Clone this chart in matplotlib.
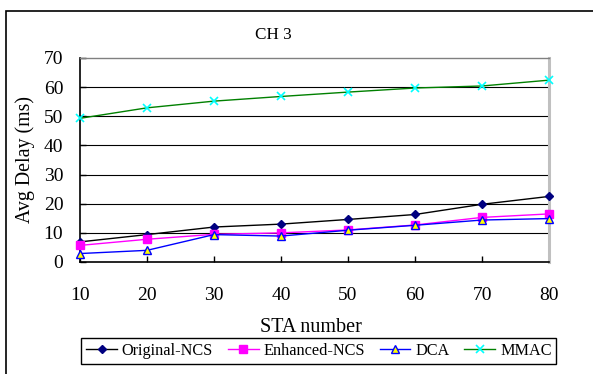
import matplotlib
matplotlib.use("Agg")
import matplotlib.pyplot as plt
from matplotlib.patches import Rectangle
from matplotlib.lines import Line2D

plt.rcParams['font.family'] = ['Liberation Serif', 'DejaVu Serif']

sta = [10, 20, 30, 40, 50, 60, 70, 80]
original_ncs = [6.9, 9.4, 12.0, 13.0, 14.6, 16.3, 19.8, 22.5]
enhanced_ncs = [5.7, 7.8, 9.5, 10.0, 11.0, 12.7, 15.3, 16.5]
dca = [2.9, 4.0, 9.4, 8.9, 10.9, 12.6, 14.4, 14.9]
mmac = [49.3, 52.9, 55.2, 56.8, 58.3, 59.7, 60.4, 62.4]

series_names = ["Original-NCS", "Enhanced-NCS", "DCA", "MMAC"]
yticks = [0, 10, 20, 30, 40, 50, 60, 70]

W, H = 593, 374
fig = plt.figure(figsize=(W / 100, H / 100), dpi=100)

# outer chart border (cropped at right/bottom)
fig.add_artist(Rectangle((6 / W, -0.1), 1.2, (H - 11) / H + 0.1,
                         transform=fig.transFigure, fill=False,
                         edgecolor='black', linewidth=1.2))

ax = fig.add_axes([80 / W, (H - 262) / H, (549 - 80) / W, (262 - 58) / H])
ax.set_xlim(10, 80)
ax.set_ylim(0, 70)

for y in yticks[1:-1]:
    ax.axhline(y, color='black', linewidth=0.8, zorder=1)

ax.plot(sta, original_ncs, color='#000000', marker='D', markersize=4.5,
        markerfacecolor='#000080', markeredgecolor='#000080', linewidth=1.0,
        label=series_names[0], zorder=3, clip_on=False)
ax.plot(sta, enhanced_ncs, color='#ff00ff', marker='s', markersize=5.5,
        markerfacecolor='#ff00ff', markeredgecolor='#ff00ff', linewidth=1.0,
        label=series_names[1], zorder=3, clip_on=False)
ax.plot(sta, dca, color='#0000ff', marker='^', markersize=6,
        markerfacecolor='#ffff00', markeredgecolor='#0000ff', markeredgewidth=1.0,
        linewidth=1.0, label=series_names[2], zorder=3, clip_on=False)
ax.plot(sta, mmac, color='#008000', marker='x', markersize=6,
        markeredgecolor='#00ffff', markeredgewidth=1.2, linewidth=1.0,
        label=series_names[3], zorder=3, clip_on=False)

ax.set_xticks(sta)
ax.set_yticks(yticks)
ax.tick_params(axis='both', direction='in', length=4, width=1, labelsize=14)
ax.tick_params(axis='x', pad=18)
ax.tick_params(axis='y', pad=12)

ax.spines['left'].set_color('black')
ax.spines['bottom'].set_color('black')
ax.spines['left'].set_linewidth(1.2)
ax.spines['bottom'].set_linewidth(1.2)
ax.spines['top'].set_color('#808080')
ax.spines['top'].set_linewidth(1.0)
ax.spines['right'].set_color('#c0c0c0')
ax.spines['right'].set_linewidth(2.2)

fig.text(273 / W, 1 - 35 / H, "CH 3", ha='center', va='center', fontsize=12.3)
fig.text(311 / W, 1 - 328 / H, "STA number", ha='center', va='center', fontsize=14.5)
fig.text(25 / W, 1 - 160 / H, "Avg Delay (ms)", ha='center', va='center',
         rotation=90, fontsize=14.3)

handles, labels = ax.get_legend_handles_labels()
leg = fig.legend(handles, labels, ncol=4, loc='center',
                 bbox_to_anchor=(318.8 / W, 1 - 351 / H),
                 fontsize=11.7, frameon=True, fancybox=False, framealpha=1,
                 edgecolor='black', handlelength=1.9, handletextpad=0.3,
                 columnspacing=0.9, borderpad=0.3)
leg.get_frame().set_linewidth(1.0)

fig.savefig("out.png", dpi=100)
